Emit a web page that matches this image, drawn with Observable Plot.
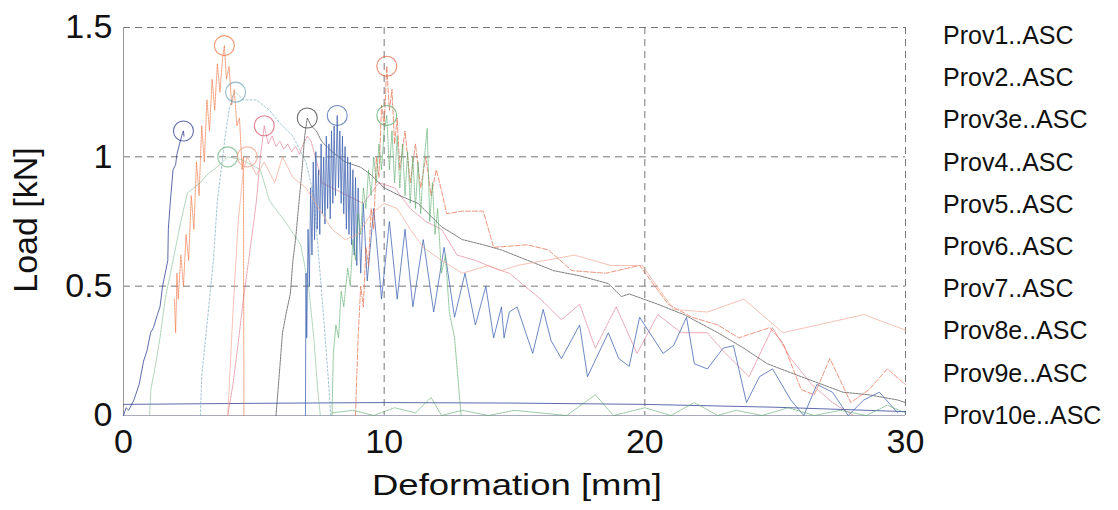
<!DOCTYPE html>
<html>
<head>
<meta charset="utf-8">
<script src="https://cdn.jsdelivr.net/npm/d3@7"></script>
<script src="https://cdn.jsdelivr.net/npm/@observablehq/plot@0.6"></script>
<style>
  html, body { margin: 0; padding: 0; background: #fff; }
  #wrap { position: relative; width: 1118px; height: 510px; }
  #legend { position: absolute; left: 943px; top: 14px; font-family: "Liberation Sans", Arial, sans-serif; font-size: 25px; color: #111; }
  #legend div { line-height: 42.2px; white-space: nowrap; }
</style>
</head>
<body>
<div id="wrap"><div id="chart"></div><div id="legend"></div></div>
<script>
// ---- data ----
const seriesNames = ["Prov1..ASC","Prov2..ASC","Prov3e..ASC","Prov4..ASC","Prov5..ASC","Prov6..ASC","Prov7..ASC","Prov8e..ASC","Prov9e..ASC","Prov10e..ASC"];
const seriesColors = ["#2b3b8f","#ee7642","#6aa3b8","#d9566f","#72b487","#3c3c3c","#3f62b0","#e4643f","#55a867","#f3a48e"];
const seriesDash = ["none","2,1","2,2","2,1","2,1","2,1","none","5,2","2,1","none"];
const seriesOpacity = [0.85, 0.75, 0.7, 0.6, 0.65, 0.75, 0.85, 0.75, 0.7, 0.75];

const xTicks = [0, 10, 20, 30];
const yTicks = [0, 0.5, 1, 1.5];

const prov1 = [[0,0],[0.1,0.03],[0.2,0.02],[0.4,0.06],[0.6,0.12],[0.77,0.21],[0.9,0.25],[1.04,0.32],[1.15,0.34],[1.3,0.39],[1.4,0.42],[1.5,0.5],[1.6,0.55],[1.7,0.6],[1.72,0.72],[1.8,0.83],[1.9,0.95],[2.0,0.97],[2.05,1.01],[2.15,1.05],[2.26,1.09],[2.3,1.1],[2.32,1.08],[2.32,null],[0,0.043],[5,0.047],[10,0.05],[15,0.048],[20,0.043],[25,0.032],[30,0.015]];
const prov2 = [[1.95,0.45],[2.0,0.32],[2.05,0.55],[2.1,0.45],[2.2,0.62],[2.3,0.5],[2.4,0.7],[2.5,0.6],[2.6,0.85],[2.7,0.72],[2.8,0.98],[2.9,0.85],[3.0,1.12],[3.1,0.98],[3.2,1.22],[3.3,1.1],[3.4,1.3],[3.5,1.18],[3.6,1.36],[3.7,1.25],[3.8,1.38],[3.87,1.43],[3.95,1.3],[4.05,1.35],[4.15,1.2],[4.25,1.26],[4.35,1.12],[4.45,1.15],[4.55,0.95],[4.6,1.0],[4.62,0]];
const prov3e = [[2.95,0],[3.0,0.15],[3.15,0.3],[3.3,0.45],[3.45,0.6],[3.6,0.83],[3.75,0.95],[3.9,1.08],[4.05,1.18],[4.2,1.24],[4.3,1.25],[4.6,1.22],[5.1,1.22],[5.6,1.18],[6.0,1.13],[6.5,1.08],[7.0,0.98],[7.3,0.85],[7.5,0.6],[7.7,0.35],[7.85,0.15],[7.95,0]];
const prov4 = [[4.0,0],[4.2,0.12],[4.4,0.28],[4.6,0.45],[4.8,0.6],[5.0,0.75],[5.1,0.83],[5.25,1.0],[5.4,1.12],[5.55,1.05],[5.7,1.08],[5.85,1.04],[6.0,1.06],[6.15,1.03],[6.3,1.05],[6.45,1.02],[6.6,1.04],[6.75,1.01],[6.9,1.05],[7.05,1.08],[7.2,1.06],[7.35,1.0],[7.5,0.95],[7.6,0.9],[8.0,0.88],[8.6,0.85],[9.2,0.82],[9.8,0.9],[10.4,0.88],[11.0,0.8],[11.6,0.75],[12.2,0.72],[12.8,0.62],[13.5,0.6],[14.2,0.57],[14.8,0.55],[15.4,0.5],[16.0,0.45],[16.8,0.37],[17.5,0.43],[18.1,0.26],[18.9,0.42],[19.7,0.24],[20.5,0.39],[21.4,0.32],[22.4,0.32],[23.0,0.25],[24.0,0.15],[24.9,0.34],[25.6,0.22],[26.4,0.12],[27.2,0.05],[28.0,0]];
const prov5 = [[1.0,0],[1.05,0.1],[1.2,0.18],[1.4,0.3],[1.6,0.45],[1.8,0.55],[2.0,0.65],[2.2,0.75],[2.45,0.86],[2.7,0.88],[2.95,0.9],[3.2,0.93],[3.45,0.95],[3.7,0.97],[4.0,1.0],[4.5,0.99],[4.9,0.97],[5.25,0.95],[5.6,0.83],[6.2,0.75],[6.8,0.66],[7.1,0.5],[7.3,0.3],[7.45,0.1],[7.55,0]];
const prov6 = [[5.85,0],[6.0,0.19],[6.1,0.32],[6.25,0.4],[6.4,0.47],[6.5,0.6],[6.6,0.68],[6.7,0.79],[6.85,0.95],[6.95,1.08],[7.05,1.15],[7.2,1.12],[7.4,1.1],[7.6,1.06],[8.0,1.02],[8.5,0.98],[9.1,0.96],[9.5,0.93],[10.0,0.88],[10.6,0.85],[11.3,0.82],[12.2,0.73],[13.0,0.68],[13.8,0.66],[14.5,0.64],[15.5,0.6],[16.5,0.56],[17.5,0.54],[18.6,0.51],[19.1,0.46],[19.4,0.47],[20.5,0.43],[21.5,0.39],[22.8,0.32],[23.8,0.26],[24.7,0.2],[26.0,0.15],[27.6,0.09],[28.6,0.08],[29.7,0.06],[30,0.05]];
const prov7 = [[6.98,0],[7.0,0.55],[7.03,0.3],[7.08,0.72],[7.13,0.5],[7.18,0.88],[7.23,0.62],[7.28,0.98],[7.33,0.68],[7.38,1.02],[7.43,0.72],[7.48,0.95],[7.53,0.7],[7.58,1.05],[7.63,0.78],[7.68,1.0],[7.73,0.74],[7.78,1.08],[7.83,0.8],[7.88,1.05],[7.93,0.76],[7.98,1.1],[8.03,0.82],[8.08,1.12],[8.13,0.85],[8.2,1.16],[8.25,0.88],[8.3,1.1],[8.35,0.82],[8.4,1.08],[8.45,0.78],[8.5,1.04],[8.55,0.72],[8.6,1.0],[8.65,0.7],[8.7,0.98],[8.75,0.66],[8.8,0.95],[8.85,0.62],[8.9,0.92],[8.95,0.58],[9.0,0.88],[9.1,0.55],[9.2,0.82],[9.35,0.52],[9.6,0.8],[9.9,0.45],[10.2,0.75],[10.5,0.45],[10.8,0.72],[11.1,0.42],[11.5,0.68],[11.9,0.4],[12.3,0.65],[12.7,0.38],[13.1,0.55],[13.5,0.35],[13.9,0.5],[14.2,0.3],[14.5,0.42],[14.6,0.3],[14.8,0.4],[15.1,0.42],[15.7,0.24],[16.1,0.41],[16.4,0.29],[16.8,0.22],[17.5,0.35],[17.8,0.15],[18.6,0.32],[19.0,0.22],[19.4,0.19],[19.8,0.38],[20.7,0.24],[21.1,0.27],[21.6,0.38],[21.9,0.2],[22.4,0.18],[23.0,0.26],[23.4,0.27],[23.9,0.05],[24.4,0.15],[24.9,0.18],[25.6,0.06],[26.1,0],[26.6,0.12],[27.2,0.09],[27.8,0],[28.4,0.06],[29.0,0.09],[29.7,0.01]];
const prov8e = [[8.9,0],[9.0,0.3],[9.1,0.5],[9.2,0.42],[9.3,0.65],[9.4,0.58],[9.5,0.8],[9.6,0.72],[9.7,1.0],[9.8,0.92],[9.9,1.2],[10.0,1.12],[10.1,1.35],[10.2,1.18],[10.3,1.26],[10.4,1.05],[10.5,1.15],[10.6,0.95],[10.8,1.1],[11.0,0.9],[11.2,1.05],[11.4,0.88],[11.6,1.0],[11.8,0.85],[12.0,0.95],[12.2,0.87],[12.4,0.78],[13.0,0.79],[13.8,0.79],[14.2,0.65],[15.5,0.66],[16.3,0.64],[17.2,0.56],[18.5,0.55],[19.8,0.58],[20.9,0.43],[21.8,0.38],[22.8,0.35],[23.6,0.3],[24.8,0.34],[25.3,0.28],[26.0,0.1],[26.5,0.08],[27.1,0.22],[27.9,0.05],[28.6,0.1],[29.3,0.18],[30,0.12]];
const prov9e = [[8.0,0],[8.05,0.24],[8.15,0.35],[8.25,0.3],[8.35,0.48],[8.45,0.42],[8.6,0.57],[8.7,0.5],[8.8,0.68],[8.9,0.6],[9.0,0.78],[9.1,0.7],[9.2,0.88],[9.3,0.8],[9.4,0.95],[9.5,0.85],[9.6,1.0],[9.7,0.9],[9.8,1.05],[9.9,0.95],[10.0,1.1],[10.1,1.16],[10.2,0.95],[10.3,1.1],[10.4,0.9],[10.5,1.08],[10.6,0.88],[10.7,1.05],[10.8,0.85],[10.9,1.02],[11.0,0.82],[11.1,1.0],[11.2,0.8],[11.3,0.98],[11.4,0.78],[11.5,0.95],[11.65,1.11],[11.75,0.75],[11.85,0.9],[11.95,0.7],[12.05,0.8],[12.2,0.55],[12.35,0.62],[12.5,0.4],[12.7,0.3],[12.85,0.12],[12.95,0],[12.95,null],[8.0,0.01],[8.8,0.02],[9.6,0],[10.4,0.03],[11.2,0.01],[11.8,0.07],[12.2,0],[13,0.02],[14,0],[15,0.02],[16,0.01],[17,0],[18.1,0.08],[18.8,0],[20,0.03],[21,0],[21.9,0.05],[22.8,0],[23.5,0.02],[24.5,0],[25.5,0.03],[26.5,0],[27.5,0.02],[28.5,0],[29.3,0.04],[30,0.01]];
const prov10e = [[4.0,0],[4.2,0.4],[4.4,0.75],[4.6,0.95],[4.75,1.0],[5.1,0.93],[5.4,0.98],[5.8,0.9],[6.1,1.0],[6.5,0.92],[7.0,0.88],[7.5,0.8],[8.0,0.72],[8.5,0.68],[9.0,0.7],[9.5,0.78],[10.0,0.82],[10.5,0.8],[11.0,0.72],[11.5,0.65],[12.2,0.6],[13.0,0.55],[14.0,0.58],[14.5,0.56],[15.1,0.58],[16.2,0.6],[17.3,0.62],[18.0,0.6],[18.7,0.58],[19.9,0.58],[21.1,0.41],[22.4,0.4],[23.8,0.45],[25.3,0.32],[28.4,0.39],[30,0.33]];

const seriesData = [prov1, prov2, prov3e, prov4, prov5, prov6, prov7, prov8e, prov9e, prov10e];

// peak markers (circles)
const peakSeries = [0, 1, 2, 3, 4, 5, 6, 7, 8, 9];
const peakX = [2.3, 3.87, 4.3, 5.4, 4.0, 7.05, 8.2, 10.1, 10.1, 4.75];
const peakY = [1.1, 1.43, 1.25, 1.12, 1.0, 1.15, 1.16, 1.35, 1.16, 1.0];

// ---- build ----
const lineMarks = seriesData.map((pts, i) =>
  Plot.line(pts.map(([x, y]) => ({x, y})), {
    x: "x", y: "y",
    stroke: seriesColors[i],
    strokeWidth: 0.9,
    strokeOpacity: seriesOpacity[i],
    strokeDasharray: seriesDash[i] === "none" ? undefined : seriesDash[i]
  })
);
const peaks = peakSeries.map((s, i) => ({x: peakX[i], y: peakY[i], c: seriesColors[s]}));

const chart = Plot.plot({
  width: 1118,
  height: 510,
  marginLeft: 123,
  marginRight: 213,
  marginTop: 27,
  marginBottom: 95,
  style: {fontFamily: "'Liberation Sans', Arial, sans-serif", background: "white", color: "#111"},
  x: {domain: [0, 30]},
  y: {domain: [0, 1.5]},
  marks: [
    Plot.ruleX(xTicks.filter(d => d > 0), {stroke: "#777", strokeWidth: 1, strokeDasharray: "7,5"}),
    Plot.ruleY(yTicks.filter(d => d > 0), {stroke: "#777", strokeWidth: 1, strokeDasharray: "7,5"}),
    Plot.ruleX([0], {stroke: "#999", strokeWidth: 1}),
    Plot.ruleY([0], {stroke: "#aab", strokeWidth: 1}),
    ...lineMarks,
    Plot.dot(peaks, {x: "x", y: "y", r: 10, stroke: "c", fill: "none", strokeWidth: 1.1, strokeOpacity: 0.75}),
    Plot.axisX({ticks: xTicks, tickSize: 0, tickPadding: 13, fontSize: 34, label: null, tickFormat: d => String(d)}),
    Plot.axisY({ticks: yTicks, tickSize: 0, tickPadding: 11, fontSize: 34, label: null, tickFormat: d => String(d)})
  ]
});
document.getElementById("chart").appendChild(chart);

// axis titles
const svg = d3.select(chart);
svg.append("text")
  .attr("x", 517).attr("y", 495)
  .attr("text-anchor", "middle")
  .attr("font-size", 29)
  .attr("fill", "#111")
  .attr("textLength", 290)
  .attr("lengthAdjust", "spacingAndGlyphs")
  .text("Deformation [mm]");
svg.append("text")
  .attr("transform", "translate(37,220) rotate(-90)")
  .attr("text-anchor", "middle")
  .attr("font-size", 34)
  .attr("fill", "#111")
  .text("Load [kN]");

// legend (text only, as in the reference)
const leg = d3.select("#legend");
seriesNames.forEach(n => leg.append("div").text(n));
</script>
</body>
</html>
